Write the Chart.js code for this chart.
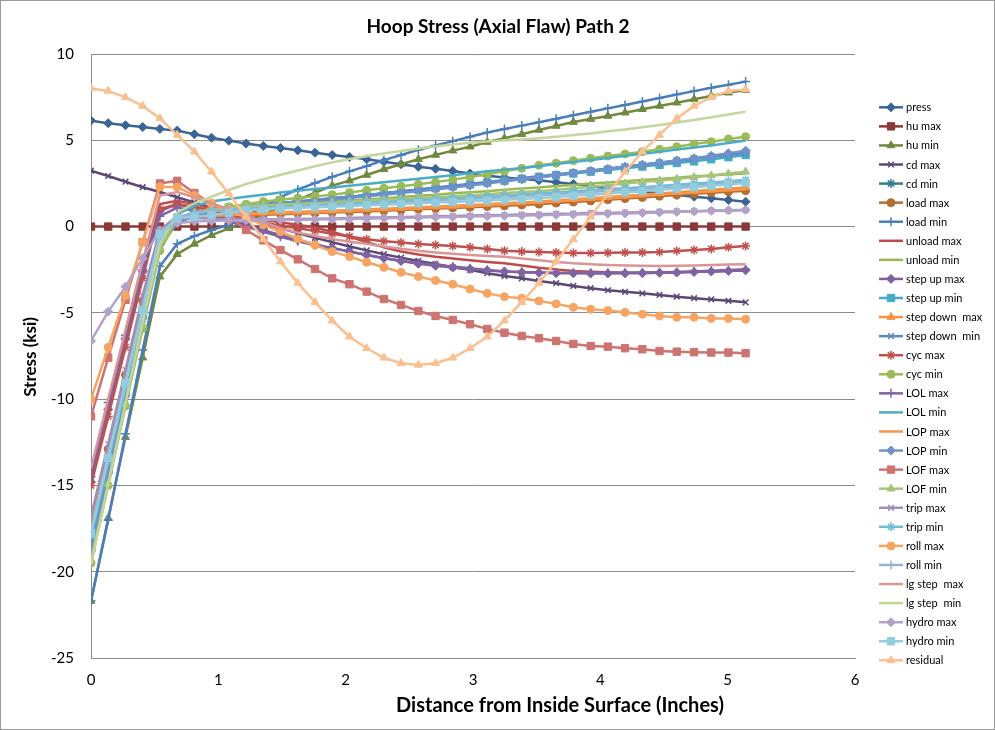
<!DOCTYPE html>
<html>
<head>
<meta charset="utf-8">
<script src="https://cdn.jsdelivr.net/npm/chart.js@4.4.1/dist/chart.umd.min.js"></script>
<style>
  html, body { margin: 0; padding: 0; background: #fff; }
  #wrap { width: 995px; height: 730px; }
</style>
</head>
<body>
<div id="wrap"><canvas id="c" width="995" height="730"></canvas></div>
<script>
const chartTitle = "Hoop Stress (Axial Flaw) Path 2";
const xTitle = "Distance from Inside Surface (Inches)";
const yTitle = "Stress (ksi)";

// distance (inches) of each result point
const distance = [0, 0.135, 0.271, 0.406, 0.541, 0.677, 0.812, 0.947, 1.082, 1.218, 1.353, 1.488, 1.624,
  1.759, 1.894, 2.030, 2.165, 2.300, 2.435, 2.571, 2.706, 2.841, 2.977, 3.112, 3.247, 3.383, 3.518,
  3.653, 3.788, 3.924, 4.059, 4.194, 4.330, 4.465, 4.600, 4.736, 4.871, 5.006, 5.141];

const press = [6.14, 5.99, 5.87, 5.77, 5.66, 5.56, 5.35, 5.15, 4.98, 4.81, 4.67, 4.55, 4.42, 4.28, 4.15, 4.03, 3.9, 3.76, 3.61, 3.47, 3.35, 3.22, 3.07, 2.94, 2.84, 2.76, 2.68, 2.57, 2.47, 2.35, 2.22, 2.12, 2.02, 1.93, 1.83, 1.73, 1.64, 1.54, 1.44];
const huMax = [0, 0, 0, 0, 0, 0, 0, 0, 0, 0, 0, 0, 0, 0, 0, 0, 0, 0, 0, 0, 0, 0, 0, 0, 0, 0, 0, 0, 0, 0, 0, 0, 0, 0, 0, 0, 0, 0, 0];
const huMin = [-21.7, -16.9, -12.2, -7.6, -2.9, -1.6, -1.0, -0.5, -0.1, 0.3, 0.72, 1.13, 1.55, 1.96, 2.37, 2.66, 2.99, 3.32, 3.61, 3.9, 4.15, 4.4, 4.63, 4.9, 5.12, 5.35, 5.6, 5.83, 6.06, 6.23, 6.41, 6.6, 6.8, 6.99, 7.18, 7.38, 7.57, 7.76, 7.91];
const cdMax = [3.24, 2.93, 2.6, 2.28, 2.0, 1.7, 1.4, 1.1, 0.8, 0.5, 0.2, -0.1, -0.38, -0.65, -0.9, -1.15, -1.38, -1.6, -1.8, -1.99, -2.17, -2.36, -2.51, -2.7, -2.87, -3.0, -3.15, -3.28, -3.44, -3.57, -3.69, -3.78, -3.87, -3.96, -4.06, -4.15, -4.22, -4.3, -4.39];
const cdMin = [-18.7, -14.2, -9.7, -5.2, -0.9, 0.4, 0.75, 0.95, 1.08, 1.18, 1.27, 1.36, 1.45, 1.54, 1.63, 1.72, 1.82, 1.92, 2.02, 2.12, 2.22, 2.32, 2.43, 2.54, 2.65, 2.76, 2.87, 2.98, 3.1, 3.22, 3.34, 3.46, 3.58, 3.7, 3.82, 3.94, 4.06, 4.18, 4.3];
const loadMax = [-17.2, -12.9, -8.6, -4.3, -0.3, 0.45, 0.55, 0.6, 0.63, 0.66, 0.69, 0.72, 0.75, 0.78, 0.81, 0.84, 0.88, 0.92, 0.96, 1.0, 1.04, 1.08, 1.12, 1.16, 1.2, 1.25, 1.3, 1.36, 1.42, 1.48, 1.55, 1.62, 1.69, 1.76, 1.83, 1.9, 1.96, 2.02, 2.08];
const loadMin = [-21.7, -17.0, -12.0, -7.15, -2.3, -1.0, -0.55, -0.2, 0.1, 0.6, 1.15, 1.7, 2.15, 2.52, 2.88, 3.2, 3.5, 3.85, 4.15, 4.45, 4.7, 4.95, 5.2, 5.45, 5.65, 5.85, 6.05, 6.25, 6.45, 6.65, 6.85, 7.05, 7.25, 7.45, 7.65, 7.85, 8.05, 8.22, 8.4];
const unloadMax = [-14.3, -10.5, -6.6, -2.6, 1.3, 1.5, 1.3, 1.05, 0.8, 0.6, 0.4, 0.25, 0.1, -0.05, -0.3, -0.6, -0.9, -1.2, -1.45, -1.62, -1.75, -1.85, -1.95, -2.05, -2.13, -2.25, -2.38, -2.48, -2.57, -2.62, -2.65, -2.67, -2.67, -2.66, -2.64, -2.62, -2.6, -2.57, -2.55];
const unloadMin = [-19.2, -14.7, -10.2, -5.7, -1.3, 0.3, 0.7, 0.9, 1.0, 1.07, 1.15, 1.21, 1.3, 1.36, 1.44, 1.5, 1.58, 1.63, 1.71, 1.78, 1.84, 1.93, 1.99, 2.05, 2.14, 2.2, 2.27, 2.35, 2.41, 2.5, 2.55, 2.62, 2.7, 2.76, 2.83, 2.91, 2.96, 3.03, 3.08];
const stepUpMax = [-14.8, -10.6, -6.5, -2.6, 0.9, 1.3, 1.0, 0.7, 0.4, 0.1, -0.2, -0.5, -0.78, -1.02, -1.25, -1.45, -1.65, -1.83, -2.0, -2.15, -2.27, -2.37, -2.46, -2.54, -2.6, -2.65, -2.68, -2.7, -2.71, -2.72, -2.72, -2.71, -2.7, -2.68, -2.66, -2.63, -2.6, -2.57, -2.53];
const stepUpMin = [-18.6, -14.1, -9.6, -5.1, -0.8, 0.5, 0.8, 1.0, 1.1, 1.2, 1.28, 1.37, 1.46, 1.55, 1.64, 1.73, 1.83, 1.93, 2.03, 2.13, 2.23, 2.33, 2.44, 2.55, 2.66, 2.77, 2.88, 2.98, 3.08, 3.18, 3.28, 3.38, 3.48, 3.58, 3.68, 3.78, 3.9, 4.02, 4.15];
const stepDownMax = [-17.4, -13.1, -8.8, -4.5, -0.4, 0.5, 0.62, 0.68, 0.72, 0.76, 0.8, 0.83, 0.86, 0.89, 0.92, 0.96, 1.0, 1.04, 1.08, 1.12, 1.16, 1.2, 1.25, 1.3, 1.35, 1.4, 1.46, 1.52, 1.58, 1.64, 1.71, 1.78, 1.85, 1.92, 1.99, 2.06, 2.13, 2.2, 2.27];
const stepDownMin = [-18.9, -14.4, -9.9, -5.4, -1.1, 0.2, 0.6, 0.85, 1.0, 1.12, 1.22, 1.32, 1.42, 1.52, 1.62, 1.72, 1.82, 1.93, 2.04, 2.15, 2.26, 2.37, 2.48, 2.59, 2.7, 2.81, 2.92, 3.03, 3.14, 3.25, 3.36, 3.47, 3.58, 3.69, 3.8, 3.92, 4.04, 4.16, 4.28];
const cycMax = [-15.0, -11.0, -7.0, -3.0, 1.0, 1.3, 1.15, 0.9, 0.65, 0.45, 0.25, 0.05, -0.1, -0.25, -0.42, -0.58, -0.73, -0.85, -0.93, -1.01, -1.07, -1.13, -1.2, -1.3, -1.4, -1.45, -1.48, -1.5, -1.53, -1.53, -1.52, -1.5, -1.5, -1.48, -1.41, -1.36, -1.3, -1.2, -1.13];
const cycMin = [-19.5, -15.0, -10.4, -5.9, -1.4, 0.4, 0.8, 1.0, 1.15, 1.3, 1.45, 1.55, 1.65, 1.75, 1.85, 1.97, 2.1, 2.22, 2.33, 2.45, 2.58, 2.72, 2.87, 3.03, 3.2, 3.38, 3.55, 3.67, 3.82, 3.96, 4.09, 4.21, 4.34, 4.48, 4.63, 4.79, 4.92, 5.08, 5.21];
const lolMax = [-14.5, -10.2, -6.3, -2.5, 0.6, 1.1, 0.9, 0.6, 0.3, 0.0, -0.3, -0.59, -0.85, -1.08, -1.25, -1.45, -1.65, -1.82, -1.98, -2.13, -2.23, -2.32, -2.42, -2.52, -2.6, -2.63, -2.66, -2.68, -2.68, -2.68, -2.68, -2.67, -2.66, -2.65, -2.63, -2.6, -2.56, -2.52, -2.47];
const lolMin = [-18.0, -13.6, -9.2, -4.8, -0.6, 0.7, 1.2, 1.45, 1.6, 1.73, 1.85, 1.97, 2.08, 2.18, 2.27, 2.37, 2.47, 2.57, 2.67, 2.77, 2.87, 2.98, 3.09, 3.2, 3.3, 3.4, 3.5, 3.62, 3.74, 3.86, 3.98, 4.1, 4.22, 4.34, 4.46, 4.58, 4.7, 4.84, 4.98];
const lopMax = [-17.6, -13.3, -9.0, -4.7, -0.5, 0.4, 0.55, 0.62, 0.66, 0.7, 0.74, 0.77, 0.8, 0.83, 0.86, 0.9, 0.94, 0.98, 1.02, 1.06, 1.1, 1.14, 1.19, 1.24, 1.29, 1.34, 1.39, 1.45, 1.51, 1.57, 1.63, 1.7, 1.77, 1.84, 1.91, 1.98, 2.04, 2.1, 2.16];
const lopMin = [-18.8, -14.3, -9.8, -5.3, -1.0, 0.3, 0.7, 0.9, 1.0, 1.1, 1.2, 1.28, 1.37, 1.46, 1.55, 1.65, 1.75, 1.85, 1.95, 2.05, 2.15, 2.26, 2.38, 2.5, 2.62, 2.74, 2.86, 2.98, 3.1, 3.22, 3.34, 3.46, 3.58, 3.7, 3.83, 3.96, 4.1, 4.25, 4.4];
const lofMax = [-11.0, -7.6, -4.25, -0.9, 2.5, 2.65, 1.95, 1.3, 0.6, -0.2, -0.8, -1.36, -1.9, -2.46, -3.0, -3.34, -3.77, -4.2, -4.54, -4.89, -5.18, -5.41, -5.66, -5.93, -6.15, -6.34, -6.47, -6.63, -6.8, -6.92, -6.96, -7.05, -7.11, -7.21, -7.25, -7.28, -7.3, -7.3, -7.34];
const lofMin = [-19.3, -14.9, -10.3, -5.7, -1.2, 0.5, 0.8, 1.0, 1.1, 1.17, 1.23, 1.28, 1.32, 1.35, 1.4, 1.45, 1.5, 1.55, 1.6, 1.65, 1.7, 1.76, 1.82, 1.88, 1.94, 2.0, 2.05, 2.13, 2.22, 2.31, 2.4, 2.49, 2.58, 2.67, 2.76, 2.86, 2.96, 3.07, 3.18];
const tripMax = [-16.8, -12.6, -8.3, -4.0, -0.2, 0.6, 0.5, 0.45, 0.43, 0.42, 0.42, 0.43, 0.44, 0.45, 0.47, 0.49, 0.52, 0.53, 0.56, 0.57, 0.6, 0.61, 0.64, 0.65, 0.67, 0.7, 0.71, 0.74, 0.75, 0.78, 0.79, 0.82, 0.83, 0.86, 0.88, 0.89, 0.92, 0.93, 0.95];
const tripMin = [-17.9, -13.6, -9.3, -5.0, -0.7, 0.5, 0.75, 0.88, 0.97, 1.03, 1.08, 1.13, 1.18, 1.23, 1.28, 1.33, 1.38, 1.43, 1.48, 1.53, 1.58, 1.63, 1.68, 1.74, 1.8, 1.86, 1.92, 1.98, 2.04, 2.1, 2.16, 2.22, 2.28, 2.35, 2.42, 2.49, 2.56, 2.63, 2.7];
const rollMax = [-10.0, -7.0, -4.0, -0.9, 2.3, 2.3, 1.8, 1.35, 0.96, 0.5, 0.1, -0.3, -0.72, -1.07, -1.45, -1.74, -2.07, -2.36, -2.65, -2.9, -3.13, -3.34, -3.62, -3.87, -4.06, -4.15, -4.31, -4.48, -4.68, -4.79, -4.87, -4.97, -5.08, -5.18, -5.26, -5.26, -5.32, -5.32, -5.37];
const rollMin = [-17.6, -13.3, -9.0, -4.7, -0.5, 0.55, 0.78, 0.9, 0.97, 1.02, 1.07, 1.11, 1.15, 1.19, 1.23, 1.27, 1.31, 1.35, 1.4, 1.45, 1.5, 1.55, 1.6, 1.65, 1.7, 1.76, 1.82, 1.88, 1.94, 2.0, 2.06, 2.12, 2.18, 2.25, 2.32, 2.39, 2.46, 2.53, 2.6];
const lgStepMax = [-14.0, -10.0, -6.0, -2.0, 1.8, 2.0, 1.7, 1.35, 1.0, 0.65, 0.25, -0.1, -0.35, -0.55, -0.72, -0.88, -1.0, -1.15, -1.28, -1.4, -1.5, -1.58, -1.65, -1.7, -1.75, -1.85, -1.95, -2.05, -2.13, -2.18, -2.22, -2.25, -2.27, -2.28, -2.27, -2.25, -2.22, -2.2, -2.18];
const lgStepMin = [-19.6, -14.9, -10.2, -5.5, -1.0, 0.8, 1.35, 1.73, 2.12, 2.47, 2.74, 3.0, 3.25, 3.5, 3.72, 3.92, 4.08, 4.24, 4.38, 4.52, 4.65, 4.76, 4.86, 4.93, 5.0, 5.05, 5.12, 5.2, 5.3, 5.4, 5.52, 5.63, 5.75, 5.88, 6.03, 6.18, 6.33, 6.5, 6.66];
const hydroMax = [-6.63, -4.93, -3.48, -1.84, -0.2, 0.2, 0.3, 0.33, 0.35, 0.37, 0.38, 0.39, 0.4, 0.41, 0.42, 0.44, 0.46, 0.48, 0.5, 0.52, 0.54, 0.56, 0.58, 0.6, 0.62, 0.64, 0.66, 0.68, 0.7, 0.72, 0.74, 0.76, 0.79, 0.82, 0.85, 0.88, 0.91, 0.94, 0.97];
const hydroMin = [-17.8, -13.4, -9.08, -4.83, -0.45, 0.48, 0.57, 0.67, 0.8, 0.95, 1.0, 1.04, 1.08, 1.12, 1.15, 1.19, 1.23, 1.27, 1.31, 1.35, 1.39, 1.43, 1.47, 1.51, 1.55, 1.6, 1.65, 1.71, 1.78, 1.85, 1.92, 1.99, 2.06, 2.13, 2.2, 2.28, 2.36, 2.44, 2.52];
const residual = [8.0, 7.86, 7.49, 6.99, 6.27, 5.31, 4.34, 3.18, 1.9, 0.57, -0.74, -2.03, -3.27, -4.38, -5.45, -6.38, -7.05, -7.6, -7.92, -8.02, -7.92, -7.6, -7.05, -6.38, -5.45, -4.38, -3.27, -2.03, -0.74, 0.57, 1.9, 3.18, 4.34, 5.31, 6.27, 6.99, 7.49, 7.86, 7.95];

const seriesNames = ["press", "hu max", "hu min", "cd max", "cd min", "load max", "load min", "unload max",
  "unload min", "step up max", "step up min", "step down  max", "step down  min", "cyc max", "cyc min",
  "LOL max", "LOL min", "LOP max", "LOP min", "LOF max", "LOF min", "trip max", "trip min", "roll max",
  "roll min", "lg step  max", "lg step  min", "hydro max", "hydro min", "residual"];
const seriesValues = [press, huMax, huMin, cdMax, cdMin, loadMax, loadMin, unloadMax, unloadMin, stepUpMax,
  stepUpMin, stepDownMax, stepDownMin, cycMax, cycMin, lolMax, lolMin, lopMax, lopMin, lofMax, lofMin,
  tripMax, tripMin, rollMax, rollMin, lgStepMax, lgStepMin, hydroMax, hydroMin, residual];

// styling (Excel-ish palette and marker cycle)
const colors = ["#3B6496", "#8C3836", "#71893F", "#5C4776", "#357D91", "#B66D31", "#4A7EBB", "#BE4B48",
  "#98B954", "#7D60A0", "#46AAC5", "#F69240", "#5A8AC6", "#C0504D", "#9BBB59", "#8064A2", "#4BACC6",
  "#F79646", "#7092CA", "#CD7371", "#A9C47A", "#9F8DBB", "#6DBDD1", "#F7A462", "#95B3D7", "#D99694",
  "#C3D69B", "#B3A2C7", "#93CDDD", "#FAC090"];
const markerCycle = ["rectRot", "rect", "triangle", "crossRot", "star", "circle", "cross", false, false];
const markerSize = { rectRot: 4.5, rect: 5.2, triangle: 4.6, crossRot: 4, star: 4.5, circle: 4, cross: 4.5 };
const FONT = "Lato, 'Open Sans', sans-serif";

const datasets = seriesNames.map((name, i) => {
  const marker = markerCycle[i % 9];
  const stroked = marker === "cross" || marker === "crossRot" || marker === "star";
  return {
    label: name,
    data: distance.map((x, k) => ({ x: x, y: seriesValues[i][k] })),
    borderColor: colors[i],
    backgroundColor: colors[i],
    borderWidth: 2.5,
    pointStyle: marker,
    pointRadius: marker ? markerSize[marker] : 0,
    pointBackgroundColor: colors[i],
    pointBorderColor: colors[i],
    pointBorderWidth: stroked ? 1.5 : 1,
    showLine: true,
    tension: 0,
    order: seriesNames.length - i
  };
});

const decor = {
  id: "decor",
  afterDraw(chart) {
    const ctx = chart.ctx;
    ctx.save();
    ctx.strokeStyle = "#9a9a9a";
    ctx.lineWidth = 1;
    ctx.strokeRect(0.5, 0.5, 994, 729);

    ctx.fillStyle = "#000";
    ctx.textAlign = "center";
    ctx.textBaseline = "middle";
    ctx.font = "bold 19px " + FONT;
    ctx.fillText(chartTitle, 498, 27);
    ctx.font = "bold 20px " + FONT;
    ctx.fillText(xTitle, 560, 706);
    ctx.save();
    ctx.translate(31, 357);
    ctx.rotate(-Math.PI / 2);
    ctx.font = "bold 17px " + FONT;
    ctx.fillText(yTitle, 0, 0);
    ctx.restore();

    // legend: line sample with marker, then label
    ctx.textAlign = "left";
    ctx.font = "11px " + FONT;
    chart.data.datasets.forEach((ds, i) => {
      const y = 107.3 + i * 19.07;
      ctx.strokeStyle = ds.borderColor;
      ctx.lineWidth = 2.5;
      ctx.beginPath();
      ctx.moveTo(879, y);
      ctx.lineTo(903, y);
      ctx.stroke();
      if (ds.pointStyle) {
        ctx.fillStyle = ds.borderColor;
        ctx.lineWidth = ds.pointBorderWidth;
        Chart.helpers.drawPoint(ctx, { pointStyle: ds.pointStyle, radius: ds.pointRadius, rotation: 0, borderWidth: ds.pointBorderWidth }, 891, y);
      }
      ctx.fillStyle = "#000";
      ctx.fillText(ds.label, 906, y + 0.5);
    });
    ctx.restore();
  }
};

new Chart(document.getElementById("c"), {
  type: "scatter",
  data: { datasets: datasets },
  options: {
    responsive: false,
    animation: false,
    events: [],
    layout: { padding: { left: 0, right: 140, top: 54, bottom: 0 } },
    plugins: { legend: { display: false }, title: { display: false }, tooltip: { enabled: false } },
    scales: {
      x: {
        type: "linear",
        min: 0, max: 6,
        afterFit: (s) => { s.height = 72; },
        grid: { display: false, drawTicks: false },
        border: { display: true, color: "#8c8c8c", width: 1 },
        ticks: { stepSize: 1, padding: 13, color: "#000", font: { family: FONT, size: 15 } }
      },
      y: {
        min: -25, max: 10,
        afterFit: (s) => { s.width = 91; },
        grid: { color: "#8c8c8c", lineWidth: 1, drawTicks: false },
        border: { display: true, color: "#8c8c8c", width: 1 },
        ticks: { stepSize: 5, padding: 17, color: "#000", font: { family: FONT, size: 15 } }
      }
    }
  },
  plugins: [decor]
});
</script>
</body>
</html>
